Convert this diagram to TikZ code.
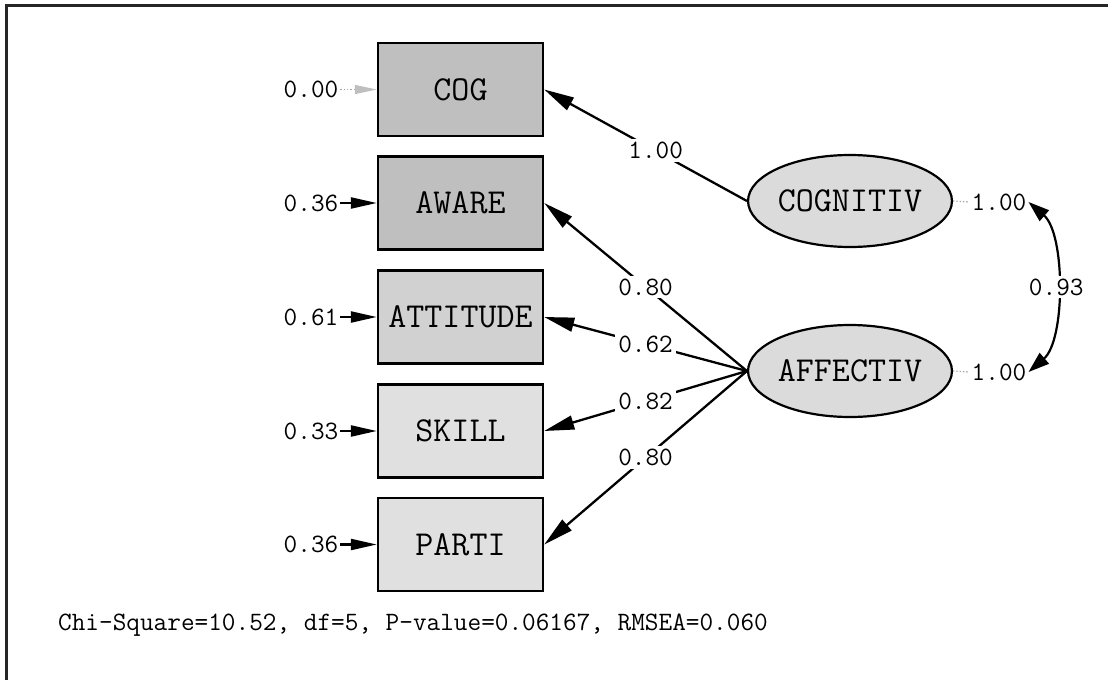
\documentclass[tikz,border=0pt]{standalone}
\usepackage{fontspec}
\usetikzlibrary{arrows.meta,shapes.geometric}

\begin{document}
\begin{tikzpicture}[x=1pt,y=-1pt,
  font=\ttfamily,
  obs/.style={draw, line width=2.4pt, minimum width=165pt, minimum height=93pt,
    inner sep=0pt, font=\ttfamily\fontsize{35}{35}\selectfont},
  lat/.style={ellipse, draw, line width=2.2pt, fill=black!14, minimum width=164pt,
    minimum height=92pt, inner sep=0pt, font=\ttfamily\fontsize{35}{35}\selectfont},
  num/.style={inner sep=2pt, font=\ttfamily\fontsize{26.5}{26.5}\selectfont},
  coef/.style={num, fill=white, inner sep=3pt},
  load/.style={line width=2.3pt, -{Triangle[length=30pt,width=14pt]}},
  resid/.style={line width=2.3pt, -{Triangle[length=26pt,width=11pt]}},
  fixed/.style={draw=black!35, dotted, line width=1.3pt,
    -{Triangle[length=22pt,width=9pt,color=black!25]}},
  varlink/.style={draw=black!35, dotted, line width=1.3pt},
  corr/.style={line width=2.2pt,
    {Triangle[length=21pt,width=14pt]}-{Triangle[length=21pt,width=14pt]}}
]
\useasboundingbox (0,0) rectangle (1108,680);

% frame
\draw[line width=2.6pt, black!85] (6.5,680) -- (6.5,5.5) -- (1108,5.5);

% observed variables
\node[obs, fill=black!25] (cog)  at (460.5,89.5)  {COG};
\node[obs, fill=black!25] (awa)  at (460.5,203)   {AWARE};
\node[obs, fill=black!18] (att)  at (460.5,317)   {ATTITUDE};
\node[obs, fill=black!12] (ski)  at (460.5,431)   {SKILL};
\node[obs, fill=black!12] (par)  at (460.5,544.5) {PARTI};

% latent variables
\node[lat] (cgn) at (850,201) {COGNITIV};
\node[lat] (aff) at (850,371) {AFFECTIV};

% error variances
\node[num] (e1) at (311,89.5)  {0.00};
\node[num] (e2) at (311,203)   {0.36};
\node[num] (e3) at (311,317)   {0.61};
\node[num] (e4) at (311,431)   {0.33};
\node[num] (e5) at (311,544.5) {0.36};
\draw[fixed] (e1) -- (cog);
\draw[resid] (e2) -- (awa);
\draw[resid] (e3) -- (att);
\draw[resid] (e4) -- (ski);
\draw[resid] (e5) -- (par);

% factor loadings
\draw[load] (cgn.west) -- node[coef, pos=0.45] {1.00} (cog.east);
\draw[load] (aff.west) -- node[coef, pos=0.5] {0.80} (awa.east);
\draw[load] (aff.west) -- node[coef, pos=0.5] {0.62} (att.east);
\draw[load] (aff.west) -- node[coef, pos=0.5] {0.82} (ski.east);
\draw[load] (aff.west) -- node[coef, pos=0.5] {0.80} (par.east);

% factor variances
\node[num] (v1) at (999,202) {1.00};
\node[num] (v2) at (999,372) {1.00};
\draw[varlink] (cgn.east) -- (v1.west);
\draw[varlink] (aff.east) -- (v2.west);

% factor correlation
\draw[corr] (v1.east) .. controls +(37,32) and +(37,-32) .. (v2.east)
  node[coef, pos=0.5] {0.93};

% fit statistics
\node[num, inner sep=0pt, anchor=base west] (fit) at (58,630)
  {Chi-Square=10.52, df=5, P-value=0.06167, RMSEA=0.060};
\end{tikzpicture}
\end{document}
